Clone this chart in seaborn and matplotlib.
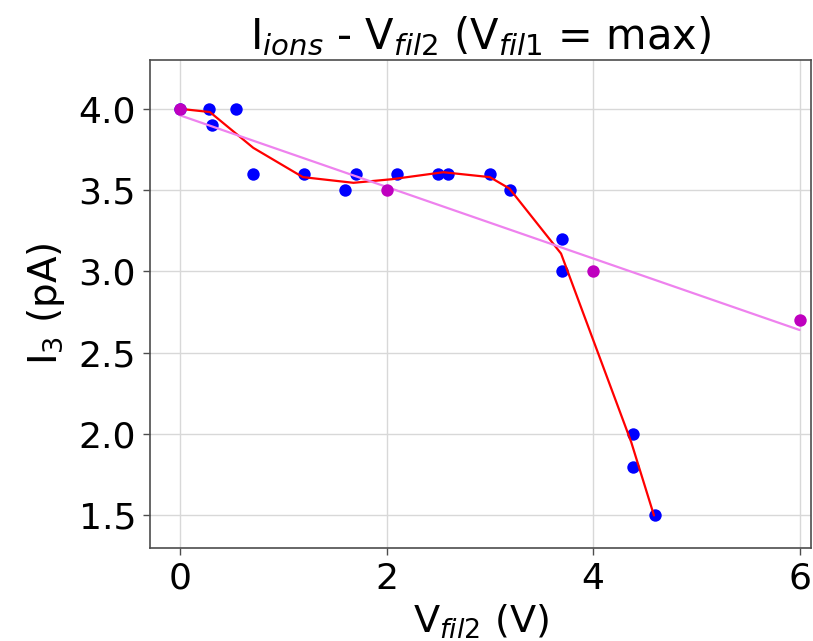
import numpy as np
import pandas as pd
import matplotlib
matplotlib.use("Agg")
import matplotlib.pyplot as plt
import seaborn as sns

# Data
v_fil2 = [0.0, 0.28, 0.31, 0.54, 0.71, 1.2, 1.6, 1.7, 2.1, 2.5, 2.6, 3.0, 3.2, 3.7, 3.7, 4.39, 4.39, 4.6]
i3 = [4.0, 4.0, 3.9, 4.0, 3.6, 3.6, 3.5, 3.6, 3.6, 3.6, 3.6, 3.6, 3.5, 3.2, 3.0, 2.0, 1.8, 1.5]

trend_v = [0.0, 0.29, 0.71, 1.19, 1.68, 2.05, 2.55, 3.0, 3.19, 3.69, 4.37, 4.59]
trend_i = [4.0, 3.98, 3.76, 3.58, 3.545, 3.567, 3.61, 3.58, 3.51, 3.11, 1.95, 1.5]

ref_v = [0, 2, 4, 6]
ref_i = [4.0, 3.5, 3.0, 2.7]

x_ticks = [0, 2, 4, 6]
y_ticks = [1.5, 2.0, 2.5, 3.0, 3.5, 4.0]

sns.set_theme(style="ticks")
plt.rcParams["font.family"] = ["DejaVu Sans"]
plt.rcParams["mathtext.fontset"] = "dejavusans"
plt.rcParams["text.color"] = "black"
plt.rcParams["axes.labelcolor"] = "black"
plt.rcParams["xtick.color"] = "black"
plt.rcParams["ytick.color"] = "black"

fig = plt.figure(figsize=(8.13, 6.41), dpi=100)
ax = fig.add_axes([0.1845, 0.1451, 0.813, 0.7613])

df_meas = pd.DataFrame({"v": v_fil2, "i": i3})
df_trend = pd.DataFrame({"v": trend_v, "i": trend_i})
df_ref = pd.DataFrame({"v": ref_v, "i": ref_i})

sns.scatterplot(data=df_meas, x="v", y="i", color="#0000ff", s=80, linewidth=0, ax=ax, zorder=3)
sns.lineplot(data=df_trend, x="v", y="i", color="#ff0000", linewidth=1.6, sort=False, ax=ax, zorder=4)
sns.scatterplot(data=df_ref, x="v", y="i", color="#bf00bf", s=80, linewidth=0, ax=ax, zorder=5)
sns.regplot(data=df_ref, x="v", y="i", ci=None, scatter=False, truncate=True,
            line_kws={"color": "#ee82ee", "linewidth": 1.6, "zorder": 4}, ax=ax)

ax.set_xlim(-0.29, 6.11)
ax.set_ylim(1.3, 4.3)
ax.set_xticks(x_ticks)
ax.set_yticks(y_ticks)
ax.set_xticklabels([str(t) for t in x_ticks])
ax.set_yticklabels([f"{t:.1f}" for t in y_ticks])
ax.grid(True, color="#d8d8d8", linewidth=1.0)
ax.set_axisbelow(True)
for sp in ax.spines.values():
    sp.set_color("#4d4d4d")
    sp.set_linewidth(1.2)
ax.tick_params(axis="both", labelsize=26, length=5, width=1, color="#4d4d4d",
               labelcolor="black", pad=5)

ax.set_xlabel(r"V$_{fil2}$ (V)", fontsize=27.5, labelpad=5, color="black")
ax.set_ylabel(r"I$_3$ (pA)", fontsize=28, labelpad=8, color="black")
ax.set_title(r"I$_{ions}$ - V$_{fil2}$ (V$_{fil1}$ = max)", fontsize=30, pad=8, color="black")

fig.savefig("out.png", dpi=100)
